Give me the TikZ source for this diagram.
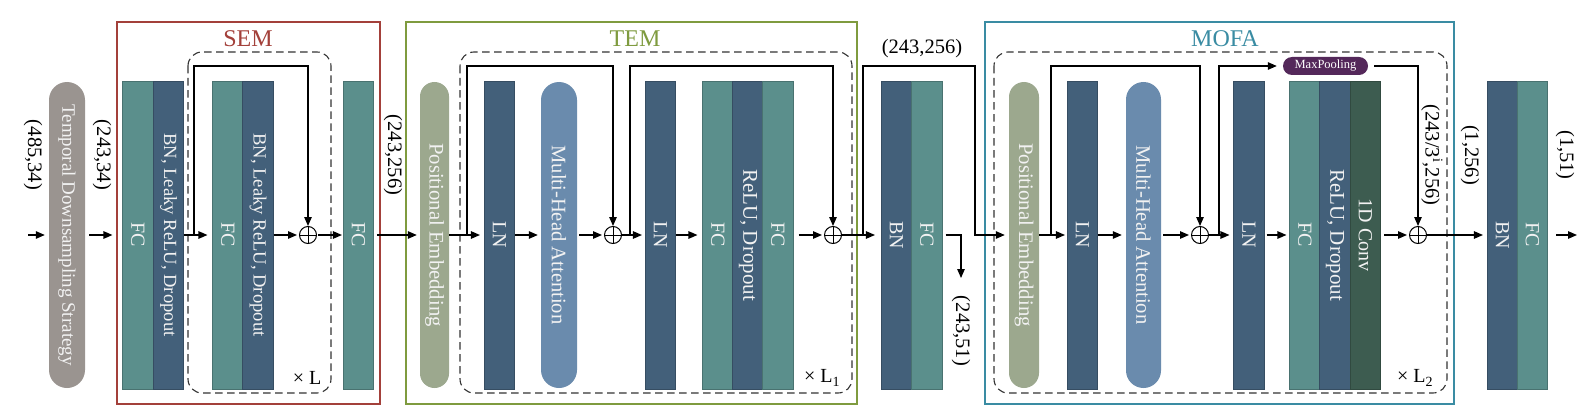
\documentclass[tikz,border=0pt]{standalone}
\usepackage{fontspec}
\setmainfont{Liberation Serif}
\usetikzlibrary{arrows.meta,calc}
\definecolor{fcC}{HTML}{5B8F8C}
\definecolor{bnC}{HTML}{43607A}
\definecolor{mhaC}{HTML}{6A8BAD}
\definecolor{peC}{HTML}{9CA88E}
\definecolor{tdsC}{HTML}{9A9490}
\definecolor{cvC}{HTML}{3D5C50}
\definecolor{mpC}{HTML}{54285A}
\definecolor{semC}{HTML}{A3403A}
\definecolor{temC}{HTML}{7F9B3F}
\definecolor{mofaC}{HTML}{3A8CA3}
\definecolor{txtC}{HTML}{F2F2F2}
\newcommand{\fsz}[1]{\fontsize{#1}{24}\selectfont}
\begin{document}
\begin{tikzpicture}[x=1pt,y=-1pt,
  blk/.style={draw=#1!80!black, fill=#1, minimum width=30.5pt, minimum height=308pt, inner sep=0pt, text=txtC, font=\fontsize{20}{24}\selectfont, line width=0.6pt},
  pill/.style={draw=none, fill=#1, minimum height=306pt, inner sep=0pt, text=txtC, font=\fontsize{20}{24}\selectfont},
  plusn/.style={circle, draw, line width=1pt, minimum size=17pt, inner sep=0pt,
    path picture={\draw[line width=1pt] (path picture bounding box.north) -- (path picture bounding box.south) (path picture bounding box.west) -- (path picture bounding box.east);}},
  ar/.style={-{Triangle[length=9pt,width=7.5pt]}, line width=1.2pt},
  lbl/.style={font=\fontsize{20.5}{24}\selectfont, inner sep=0pt},
  ttl/.style={font=\fontsize{24}{28}\selectfont, inner sep=0pt},
  modbox/.style={draw=#1, line width=1.8pt},
  dbox/.style={draw=black!80, dash pattern=on 7.5pt off 4.5pt, line width=1.1pt, rounded corners=14pt},
  times/.style={font=\fontsize{20}{24}\selectfont, inner sep=0pt}
]
\useasboundingbox (0,0) rectangle (1593,420);
\fill[white] (0,0) rectangle (1593,420);

% module boxes
\draw[modbox=semC] (117,22) rectangle (380,404);
\draw[modbox=temC] (406,22) rectangle (857,404);
\draw[modbox=mofaC] (985,22) rectangle (1454,404);
\node[ttl, text=semC] (tsem) at (248,39) {SEM};
\node[ttl, text=temC] (ttem) at (635,39) {TEM};
\node[ttl, text=mofaC] (tmofa) at (1225,39) {MOFA};
\draw[dbox] (188,52) rectangle (331,393);
\draw[dbox] (460,52) rectangle (852,393);
\draw[dbox] (994,52) rectangle (1447,393);

% blocks
\node[pill=tdsC, minimum width=36pt, rounded corners=18pt] (tds) at (67,235) {\rotatebox{-90}{\fsz{19}Temporal Downsampling Strategy}};
\node[blk=fcC] (fc1) at (138,235) {\rotatebox{-90}{FC}};
\node[blk=bnC] (bn1) at (168.5,235) {\rotatebox{-90}{\fsz{18.6}BN, Leaky ReLU, Dropout}};
\node[blk=fcC] (fc2) at (228,235) {\rotatebox{-90}{FC}};
\node[blk=bnC] (bn2) at (258,235) {\rotatebox{-90}{\fsz{18.6}BN, Leaky ReLU, Dropout}};
\node[blk=fcC] (fc3) at (358.5,235) {\rotatebox{-90}{FC}};

\node[pill=peC, minimum width=29pt, rounded corners=14.5pt] (pe1) at (434.5,235) {\rotatebox{-90}{\fsz{20.7}Positional Embedding}};
\node[blk=bnC] (ln1) at (499.5,235) {\rotatebox{-90}{LN}};
\node[pill=mhaC, minimum width=36pt, rounded corners=18pt] (mha1) at (559,235) {\rotatebox{-90}{\fsz{20.6}Multi-Head Attention}};
\node[blk=bnC] (ln2) at (660.5,235) {\rotatebox{-90}{LN}};
\node[blk=fcC] (fc4) at (718,235) {\rotatebox{-90}{FC}};
\node[blk=bnC] (rd1) at (748,235) {\rotatebox{-90}{\fsz{21}ReLU, Dropout}};
\node[blk=fcC] (fc5) at (778,235) {\rotatebox{-90}{FC}};

\node[blk=bnC] (bn3) at (896.5,235) {\rotatebox{-90}{BN}};
\node[blk=fcC] (fc6) at (927,235) {\rotatebox{-90}{FC}};

\node[pill=peC, minimum width=30pt, rounded corners=15pt] (pe2) at (1024,235) {\rotatebox{-90}{\fsz{20.7}Positional Embedding}};
\node[blk=bnC] (ln3) at (1082.5,235) {\rotatebox{-90}{LN}};
\node[pill=mhaC, minimum width=35pt, rounded corners=17.5pt] (mha2) at (1143.5,235) {\rotatebox{-90}{\fsz{20.6}Multi-Head Attention}};
\node[blk=bnC] (ln4) at (1249,235) {\rotatebox{-90}{LN}};
\node[blk=fcC] (fc7) at (1305,235) {\rotatebox{-90}{FC}};
\node[blk=bnC] (rd2) at (1335,235) {\rotatebox{-90}{\fsz{21}ReLU, Dropout}};
\node[blk=cvC] (cv) at (1365.5,235) {\rotatebox{-90}{1D Conv}};
\node[fill=mpC, text=white, rounded corners=9pt, minimum width=85pt, minimum height=18pt, inner sep=0pt, font=\fontsize{12.5}{14}\selectfont] (mp) at (1325.5,66) {MaxPooling};

\node[blk=bnC] (bn4) at (1502.5,235) {\rotatebox{-90}{BN}};
\node[blk=fcC] (fc8) at (1532.5,235) {\rotatebox{-90}{FC}};

% plus nodes
\node[plusn] (p1) at (308,235) {};
\node[plusn] (p2) at (613,235) {};
\node[plusn] (p3) at (833,235) {};
\node[plusn] (p4) at (1200,235) {};
\node[plusn] (p5) at (1418,235) {};

% coordinates
\coordinate (top) at (0,66);
\coordinate (in) at (28,235);
\coordinate (out) at (1577,235);
\coordinate (s1) at (194,235);
\coordinate (s2) at (467,235);
\coordinate (s2b) at (630,235);
\coordinate (s3) at (863,235);
\coordinate (s3b) at (975,235);
\coordinate (s4) at (1051,235);
\coordinate (s4b) at (1219,235);
\coordinate (o1) at (961,278);

% connectors
\draw[ar, shorten >=4pt] (in) -- (tds.west);
\draw[ar, shorten <=4pt, shorten >=10pt] (tds.east) -- (fc1.west);
\draw[ar, shorten >=5pt] (bn1.east) -- (fc2.west);
\draw[ar] (s1) |- (p1 |- top) -- (p1.north);
\draw[ar, shorten >=2pt] (bn2.east) -- (p1.west);
\draw[ar, shorten <=1pt, shorten >=1pt] (p1.east) -- (fc3.west);
\draw[ar, shorten <=3pt, shorten >=3pt] (fc3.east) -- (pe1.west);

\draw[ar, shorten >=4pt] (pe1.east) -- (ln1.west);
\draw[ar] (s2) |- (p2 |- top) -- (p2.north);
\draw[ar, shorten >=3pt] (ln1.east) -- (mha1.west);
\draw[ar, shorten <=2pt, shorten >=2pt] (mha1.east) -- (p2.west);
\draw[ar, shorten >=3pt] (p2.east) -- (ln2.west);
\draw[ar] (s2b) |- (p3 |- top) -- (p3.north);
\draw[ar, shorten >=5pt] (ln2.east) -- (fc4.west);
\draw[ar, shorten <=5pt, shorten >=2pt] (fc5.east) -- (p3.west);

\draw[ar, shorten >=6pt] (p3.east) -- (bn3.west);
\draw[ar, shorten >=4pt] (s3) |- (s3b |- top) -- (s3b) -- (pe2.west);
\draw[ar, shorten <=3pt] (fc6.east) -| (o1);

\draw[ar, shorten >=2pt] (pe2.east) -- (ln3.west);
\draw[ar] (s4) |- (p4 |- top) -- (p4.north);
\draw[ar, shorten >=4pt] (ln3.east) -- (mha2.west);
\draw[ar, shorten <=2pt, shorten >=2pt] (mha2.east) -- (p4.west);
\draw[ar, shorten >=4pt] (p4.east) -- (ln4.west);
\draw[ar, shorten >=6pt] (s4b) |- (mp.west);
\draw[ar, shorten <=6pt] (mp.east) -| (p5.north);
\draw[ar, shorten <=2pt, shorten >=3pt] (ln4.east) -- (fc7.west);
\draw[ar, shorten <=3pt, shorten >=2pt] (cv.east) -- (p5.west);
\draw[ar, shorten >=4pt] (p5.east) -- (bn4.west);
\draw[ar, shorten <=8pt] (fc8.east) -- (out);

% labels
\node[lbl, rotate=-90] (l1) at (33,155) {(485,34)};
\node[lbl, rotate=-90] (l2) at (102,155) {(243,34)};
\node[lbl, rotate=-90] (l3) at (393,155) {(243,256)};
\node[lbl] (l4) at (922,49) {(243,256)};
\node[lbl, rotate=-90] (l5) at (961,331) {(243,51)};
\node[lbl, rotate=-90] (l6) at (1432,155) {(243/3\textsuperscript{i},256)};
\node[lbl, rotate=-90] (l7) at (1470,155) {(1,256)};
\node[lbl, rotate=-90] (l8) at (1565,155) {(1,51)};
\node[times] (x1) at (307,378) {× L};
\node[times] (x2) at (822,378) {× L\textsubscript{1}};
\node[times] (x3) at (1415,378) {× L\textsubscript{2}};
\end{tikzpicture}
\end{document}
